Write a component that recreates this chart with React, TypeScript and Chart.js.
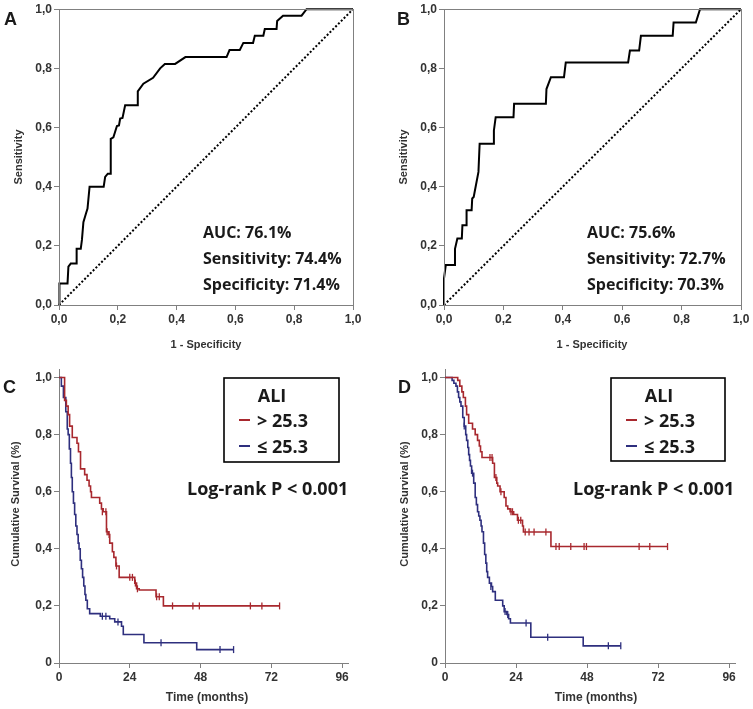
import React, { useEffect, useRef } from "react";
import { Chart, registerables } from "chart.js";
Chart.register(...registerables);

// ---------- DATA ----------
// ROC A
const rocA_fpr = [0, 0, 0.003, 0.029, 0.032, 0.04, 0.058, 0.06, 0.074, 0.078, 0.083, 0.092, 0.097, 0.104, 0.152, 0.157, 0.166, 0.174, 0.176, 0.185, 0.197, 0.204, 0.208, 0.216, 0.225, 0.268, 0.268, 0.287, 0.32, 0.344, 0.36, 0.395, 0.43, 0.57, 0.58, 0.615, 0.627, 0.66, 0.666, 0.695, 0.7, 0.74, 0.742, 0.762, 0.825, 0.842, 1];
const rocA_tpr = [0, 0.045, 0.073, 0.073, 0.13, 0.14, 0.14, 0.19, 0.19, 0.22, 0.28, 0.31, 0.326, 0.4, 0.4, 0.433, 0.444, 0.444, 0.562, 0.567, 0.605, 0.607, 0.63, 0.632, 0.675, 0.675, 0.722, 0.748, 0.768, 0.8, 0.815, 0.815, 0.838, 0.838, 0.862, 0.862, 0.886, 0.886, 0.91, 0.91, 0.933, 0.933, 0.96, 0.978, 0.978, 1, 1];
// ROC B
const rocB_fpr = [0, 0, 0.006, 0.034, 0.037, 0.045, 0.06, 0.062, 0.075, 0.076, 0.093, 0.095, 0.1, 0.116, 0.12, 0.166, 0.168, 0.174, 0.234, 0.236, 0.343, 0.345, 0.36, 0.404, 0.41, 0.62, 0.626, 0.657, 0.663, 0.77, 0.773, 0.848, 0.862, 1];
const rocB_tpr = [0, 0.09, 0.135, 0.135, 0.19, 0.225, 0.225, 0.27, 0.27, 0.32, 0.32, 0.36, 0.365, 0.45, 0.545, 0.545, 0.59, 0.635, 0.635, 0.68, 0.68, 0.73, 0.77, 0.77, 0.82, 0.82, 0.86, 0.86, 0.91, 0.91, 0.955, 0.955, 1, 1];
// Reference diagonal
const diagX = [0, 1];
const diagY = [0, 1];

const rocStatsA = ["AUC: 76.1%", "Sensitivity: 74.4%", "Specificity: 71.4%"];
const rocStatsB = ["AUC: 75.6%", "Sensitivity: 72.7%", "Specificity: 70.3%"];

// KM C (> 25.3 red, <= 25.3 blue)
const kmC_hi_t = [0, 1.6, 1.9, 2.5, 3.1, 3.6, 4.5, 6.1, 6.6, 7.3, 8.7, 9.5, 10.2, 10.7, 11, 13.8, 14.4, 15, 16.1, 16.7, 17.2, 18.1, 18.6, 19.3, 20.4, 25.7, 26.3, 27.2, 32.9, 35.4, 74.8];
const kmC_hi_s = [1, 1, 0.92, 0.9, 0.87, 0.83, 0.79, 0.77, 0.74, 0.68, 0.66, 0.64, 0.62, 0.6, 0.58, 0.56, 0.54, 0.53, 0.46, 0.45, 0.42, 0.39, 0.37, 0.34, 0.3, 0.28, 0.26, 0.256, 0.232, 0.2, 0.2];
const kmC_hi_cens_t = [14.7, 15.9, 16.3, 17.0, 19.5, 24, 24.9, 25.9, 26.6, 33.1, 34, 38.5, 45.4, 47.6, 64.9, 68.8, 74.8];
const kmC_hi_cens_s = [0.53, 0.53, 0.46, 0.45, 0.34, 0.3, 0.3, 0.28, 0.26, 0.232, 0.232, 0.2, 0.2, 0.2, 0.2, 0.2, 0.2];
const kmC_lo_t = [0, 0.8, 1.5, 2.3, 2.8, 3.1, 3.5, 3.9, 4.2, 4.5, 4.9, 5.3, 5.7, 6.1, 6.5, 6.8, 7.2, 7.6, 8, 8.4, 8.8, 9.1, 9.6, 10.4, 14, 17.2, 18.9, 21.2, 21.8, 28.8, 46.7, 59.2];
const kmC_lo_s = [1, 0.97, 0.93, 0.88, 0.82, 0.8, 0.75, 0.7, 0.65, 0.6, 0.56, 0.52, 0.48, 0.45, 0.42, 0.4, 0.36, 0.33, 0.3, 0.27, 0.24, 0.22, 0.19, 0.173, 0.164, 0.155, 0.144, 0.129, 0.1, 0.071, 0.047, 0.047];
const kmC_lo_cens_t = [14.7, 15.9, 20, 34.6, 54.6, 59.2];
const kmC_lo_cens_s = [0.164, 0.164, 0.144, 0.071, 0.047, 0.047];

// KM D
const kmD_hi_t = [0, 3.7, 4.3, 5, 5.7, 6.2, 6.9, 7.3, 8, 9.3, 10.2, 11, 11.6, 12, 12.5, 16.1, 16.7, 17.5, 17.8, 18.6, 20, 20.6, 21.2, 22, 23.2, 24.5, 26.2, 26.5, 35.8, 75.2];
const kmD_hi_s = [1, 1, 0.99, 0.97, 0.95, 0.93, 0.9, 0.87, 0.84, 0.82, 0.8, 0.78, 0.76, 0.74, 0.72, 0.7, 0.65, 0.63, 0.62, 0.6, 0.58, 0.55, 0.54, 0.53, 0.52, 0.5, 0.48, 0.459, 0.408, 0.408];
const kmD_hi_cens_t = [15.2, 15.9, 17.2, 18.9, 22.3, 22.8, 24.8, 25.6, 27.1, 28.4, 30.1, 34.1, 37.5, 38.6, 42.5, 47, 47.8, 65.6, 69.2, 75.2];
const kmD_hi_cens_s = [0.72, 0.72, 0.65, 0.6, 0.53, 0.53, 0.5, 0.5, 0.459, 0.459, 0.459, 0.459, 0.408, 0.408, 0.408, 0.408, 0.408, 0.408, 0.408, 0.408];
const kmD_lo_t = [0, 2.4, 3, 3.7, 4.2, 4.6, 5, 5.4, 6, 6.5, 7, 7.3, 7.7, 8, 8.3, 8.6, 9, 9.7, 10.2, 10.6, 11, 11.4, 11.8, 12.2, 12.5, 13, 13.4, 13.8, 14.1, 14.4, 15, 15.7, 16.1, 17, 19.5, 20, 20.9, 21.5, 22.1, 29, 46.7, 59.4];
const kmD_lo_s = [1, 0.99, 0.98, 0.97, 0.95, 0.93, 0.915, 0.9, 0.86, 0.83, 0.8, 0.78, 0.755, 0.73, 0.71, 0.69, 0.665, 0.63, 0.58, 0.555, 0.53, 0.515, 0.5, 0.48, 0.46, 0.42, 0.38, 0.35, 0.32, 0.3, 0.28, 0.268, 0.25, 0.22, 0.2, 0.18, 0.17, 0.155, 0.14, 0.09, 0.06, 0.06];
const kmD_lo_cens_t = [6.5, 9.3, 15.5, 20.3, 21.2, 27.4, 34.7, 55.2, 59.4];
const kmD_lo_cens_s = [0.83, 0.665, 0.268, 0.18, 0.17, 0.14, 0.09, 0.06, 0.06];

// Ticks
const rocTickValues = [0, 0.2, 0.4, 0.6, 0.8, 1.0];
const rocTickLabels = ["0,0", "0,2", "0,4", "0,6", "0,8", "1,0"];
const survTickValues = [0, 0.2, 0.4, 0.6, 0.8, 1.0];
const survTickLabels = ["0", "0,2", "0,4", "0,6", "0,8", "1,0"];
const timeTickValues = [0, 24, 48, 72, 96];
const timeTickLabels = ["0", "24", "48", "72", "96"];

const legendTitle = "ALI";
const legendLabels = ["> 25.3", "≤ 25.3"];
const logRankText = "Log-rank P < 0.001";

// ---------- STYLE ----------
const ARIAL = '"Liberation Sans", Arial, Helvetica, sans-serif';
const CAL = '"Open Sans", Lato, sans-serif';
const AXIS = "#808080";
const RED = "#a8282e";
const BLUE = "#2e2f7e";

type Item =
  | { kind: "text"; text: string; x: number; y: number; font: string; color: string; align: CanvasTextAlign; base: CanvasTextBaseline; rot?: boolean }
  | { kind: "rect"; x: number; y: number; w: number; h: number; color: string; lw: number }
  | { kind: "line"; x1: number; y1: number; x2: number; y2: number; color: string; lw: number };

function annot(ox: number, oy: number, items: Item[], frame: boolean) {
  return {
    id: "annot",
    afterDraw(chart: any) {
      const ctx = chart.ctx as CanvasRenderingContext2D;
      ctx.save();
      if (frame) {
        const a = chart.chartArea;
        ctx.strokeStyle = AXIS;
        ctx.lineWidth = 1;
        ctx.strokeRect(Math.round(a.left) + 0.5, Math.round(a.top) + 0.5, Math.round(a.right - a.left), Math.round(a.bottom - a.top));
      }
      for (const it of items) {
        if (it.kind === "text") {
          ctx.save();
          ctx.font = it.font;
          ctx.fillStyle = it.color;
          ctx.textAlign = it.align;
          ctx.textBaseline = it.base;
          ctx.translate(it.x - ox, it.y - oy);
          if (it.rot) ctx.rotate(-Math.PI / 2);
          ctx.fillText(it.text, 0, 0);
          ctx.restore();
        } else if (it.kind === "rect") {
          ctx.strokeStyle = it.color;
          ctx.lineWidth = it.lw;
          ctx.strokeRect(it.x - ox, it.y - oy, it.w, it.h);
        } else {
          ctx.strokeStyle = it.color;
          ctx.lineWidth = it.lw;
          ctx.beginPath();
          ctx.moveTo(it.x1 - ox, it.y1 - oy);
          ctx.lineTo(it.x2 - ox, it.y2 - oy);
          ctx.stroke();
        }
      }
      ctx.restore();
    },
  };
}

function scale(min: number, max: number, values: number[], labels: string[], fit: number, isX: boolean) {
  return {
    type: "linear",
    min,
    max,
    afterBuildTicks: (s: any) => {
      s.ticks = values.map((v) => ({ value: v }));
    },
    afterFit: (s: any) => {
      if (isX) s.height = fit;
      else s.width = fit;
    },
    grid: { display: true, drawOnChartArea: false, drawTicks: true, tickLength: 5, color: AXIS, lineWidth: 1 },
    border: { display: true, color: AXIS, width: 1 },
    ticks: {
      color: "#333",
      font: { family: ARIAL, size: 12, weight: "bold" },
      padding: 2,
      maxRotation: 0,
      autoSkip: false,
      callback: (_v: any, i: number) => labels[i],
    },
  };
}

function pts(xs: number[], ys: number[]) {
  return xs.map((x, i) => ({ x, y: ys[i] }));
}

function rocConfig(fpr: number[], tpr: number[], yWidth: number, padRight: number, ox: number, items: Item[]) {
  return {
    type: "scatter",
    data: {
      datasets: [
        { data: pts(fpr, tpr), showLine: true, borderColor: "#000", borderWidth: 2, pointRadius: 0, clip: false },
        { data: pts(diagX, diagY), showLine: true, borderColor: "#000", borderWidth: 2, borderDash: [2, 2], pointRadius: 0, clip: false },
      ],
    },
    options: {
      responsive: false,
      animation: false,
      events: [],
      layout: { padding: { left: 0, top: 8, right: padRight, bottom: 0 } },
      plugins: { legend: { display: false }, tooltip: { enabled: false } },
      scales: {
        x: scale(0, 1, rocTickValues, rocTickLabels, 51, true),
        y: scale(0, 1, rocTickValues, rocTickLabels, yWidth, false),
      },
    },
    plugins: [annot(ox, 0, items, true)],
  };
}

function kmConfig(
  hiT: number[], hiS: number[], loT: number[], loS: number[],
  hcT: number[], hcS: number[], lcT: number[], lcS: number[],
  yWidth: number, padRight: number, ox: number, oy: number, items: Item[]
) {
  const line = (d: any, c: string) => ({ data: d, showLine: true, stepped: true, borderColor: c, borderWidth: 1.6, pointRadius: 0, clip: false });
  const cens = (d: any, c: string) => ({ data: d, showLine: false, pointStyle: "line", rotation: 90, pointRadius: 3.5, borderColor: c, backgroundColor: c, pointBorderWidth: 1.3, borderWidth: 1.3, clip: false });
  return {
    type: "scatter",
    data: {
      datasets: [
        line(pts(hiT, hiS), RED),
        line(pts(loT, loS), BLUE),
        cens(pts(hcT, hcS), RED),
        cens(pts(lcT, lcS), BLUE),
      ],
    },
    options: {
      responsive: false,
      animation: false,
      events: [],
      layout: { padding: { left: 0, top: 13, right: padRight, bottom: 0 } },
      plugins: { legend: { display: false }, tooltip: { enabled: false } },
      scales: {
        x: scale(0, 98, timeTickValues, timeTickLabels, 46, true),
        y: scale(0, 1.03, survTickValues, survTickLabels, yWidth, false),
      },
    },
    plugins: [annot(ox, oy, items, false)],
  };
}

function txt(text: string, x: number, y: number, font: string, align: CanvasTextAlign = "left", base: CanvasTextBaseline = "alphabetic", color = "#1a1a1a", rot = false): Item {
  return { kind: "text", text, x, y, font, color, align, base, rot };
}

function rocItems(letter: string, lx: number, yTitleX: number, xTitleX: number, statX: number, stats: string[]): Item[] {
  return [
    txt(letter, lx, 25, `bold 18px ${ARIAL}`),
    txt("Sensitivity", yTitleX, 157, `bold 11px ${ARIAL}`, "center", "middle", "#333", true),
    txt("1 - Specificity", xTitleX, 345, `bold 11px ${ARIAL}`, "center", "middle", "#333"),
    txt(stats[0], statX, 238, `bold 16px ${CAL}`),
    txt(stats[1], statX, 264, `bold 16px ${CAL}`),
    txt(stats[2], statX, 290, `bold 16px ${CAL}`),
  ];
}

function kmItems(letter: string, lx: number, yTitleX: number, xTitleX: number, box: [number, number, number, number], lrX: number): Item[] {
  const [bx, by, bw, bh] = box;
  return [
    txt(letter, lx, 393, `bold 18px ${ARIAL}`),
    txt("Cumulative Survival (%)", yTitleX, 504, `bold 11px ${ARIAL}`, "center", "middle", "#333", true),
    txt("Time (months)", xTitleX, 698, `bold 12px ${ARIAL}`, "center", "middle", "#333"),
    { kind: "rect", x: bx, y: by, w: bw, h: bh, color: "#000", lw: 1.6 },
    txt(legendTitle, bx + 48, 402, `bold 18px ${CAL}`, "center"),
    { kind: "line", x1: bx + 15, y1: 420, x2: bx + 26, y2: 420, color: RED, lw: 2 },
    txt(legendLabels[0], bx + 33, 427, `bold 18px ${CAL}`),
    { kind: "line", x1: bx + 15, y1: 446, x2: bx + 26, y2: 446, color: BLUE, lw: 2 },
    txt(legendLabels[1], bx + 33, 453, `bold 18px ${CAL}`),
    txt(logRankText, lrX, 495, `bold 18px ${CAL}`),
  ];
}

function Panel({ left, top, width, height, build }: { left: number; top: number; width: number; height: number; build: () => any }) {
  const ref = useRef<HTMLCanvasElement>(null);
  useEffect(() => {
    const chart = new Chart(ref.current as HTMLCanvasElement, build());
    return () => chart.destroy();
  }, []);
  return (
    <canvas
      ref={ref}
      width={width}
      height={height}
      style={{ position: "absolute", left, top, width, height, display: "block" }}
    />
  );
}

export default function App() {
  return (
    <div style={{ position: "absolute", left: 0, top: 0, width: 753, height: 709, background: "#fff", overflow: "hidden" }}>
      <Panel left={0} top={0} width={376} height={356}
        build={() => rocConfig(rocA_fpr, rocA_tpr, 59, 23, 0, rocItems("A", 4, 19, 206, 203, rocStatsA))} />
      <Panel left={376} top={0} width={377} height={356}
        build={() => rocConfig(rocB_fpr, rocB_tpr, 68, 12, 376, rocItems("B", 397, 404, 592, 587, rocStatsB))} />
      <Panel left={0} top={356} width={376} height={353}
        build={() => kmConfig(kmC_hi_t, kmC_hi_s, kmC_lo_t, kmC_lo_s, kmC_hi_cens_t, kmC_hi_cens_s, kmC_lo_cens_t, kmC_lo_cens_s,
          59, 28, 0, 356, kmItems("C", 3, 16, 207, [224, 378, 115, 84], 187))} />
      <Panel left={376} top={356} width={377} height={353}
        build={() => kmConfig(kmD_hi_t, kmD_hi_s, kmD_lo_t, kmD_lo_s, kmD_hi_cens_t, kmD_hi_cens_s, kmD_lo_cens_t, kmD_lo_cens_s,
          69, 18, 376, 356, kmItems("D", 398, 405, 596, [611, 378, 114, 83], 573))} />
    </div>
  );
}
